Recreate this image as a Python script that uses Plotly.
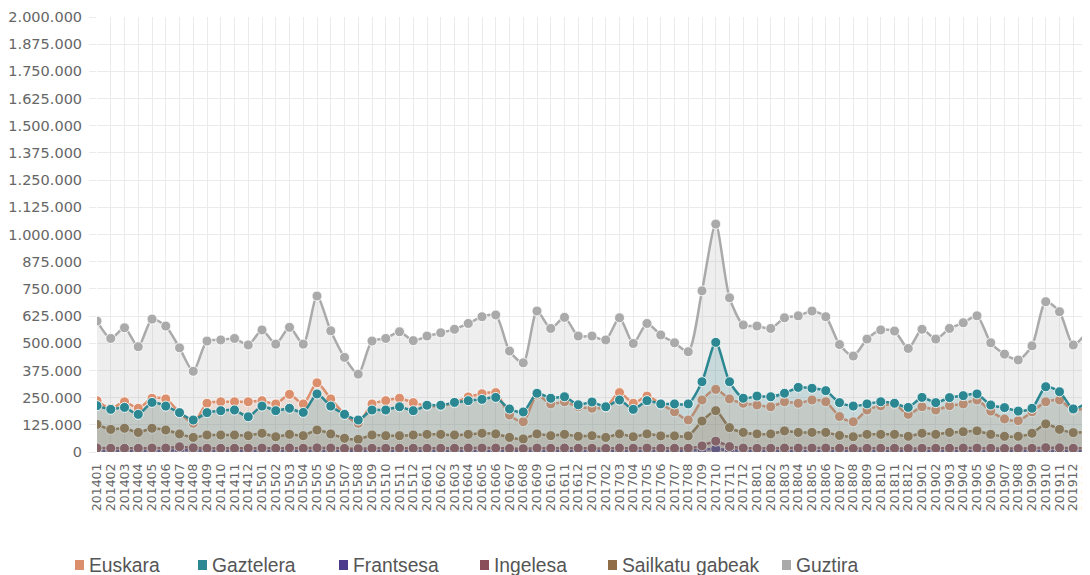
import plotly.graph_objects as go

months = [f"{y}{m:02d}" for y in range(2014, 2020) for m in range(1, 13)] + ["202001"]

guztira = [602, 522, 571, 484, 611, 579, 479, 371, 510, 515,
           522, 492, 561, 496, 573, 496, 717, 557, 435, 358,
           510, 522, 553, 512, 533, 548, 564, 591, 622, 630,
           464, 410, 648, 568, 619, 533, 533, 515, 617, 499,
           591, 538, 502, 461, 741, 1048, 709, 584, 579, 568,
           617, 626, 648, 622, 494, 441, 519, 561, 556, 476,
           564, 519, 568, 594, 626, 502, 450, 423, 488, 691,
           645, 492, 553]
gaztelera = [213, 196, 205, 173, 228, 211, 181, 147, 181, 190,
             193, 162, 211, 190, 201, 182, 267, 211, 173, 147,
             193, 193, 208, 190, 215, 215, 228, 236, 242, 251,
             198, 184, 270, 247, 254, 217, 230, 208, 239, 196,
             236, 221, 221, 221, 323, 504, 323, 247, 257, 254,
             270, 297, 293, 282, 227, 211, 221, 231, 224, 205,
             251, 227, 250, 259, 267, 216, 204, 188, 201, 300,
             277, 198, 228]
euskara = [236, 200, 231, 201, 247, 244, 182, 132, 224, 231,
           231, 231, 236, 221, 265, 221, 318, 244, 175, 132,
           221, 236, 247, 227, 212, 212, 226, 253, 268, 273,
           170, 139, 262, 221, 231, 208, 201, 206, 273, 224,
           257, 221, 185, 147, 239, 288, 244, 224, 216, 208,
           231, 224, 239, 231, 163, 139, 193, 212, 220, 173,
           208, 193, 213, 221, 239, 188, 152, 144, 185, 231,
           239, 193, 205]
sailkatu = [127, 104, 109, 90, 109, 101, 83, 67, 78, 78,
            78, 75, 86, 70, 81, 75, 101, 83, 63, 58,
            78, 75, 75, 78, 81, 81, 78, 81, 86, 83,
            67, 60, 83, 75, 81, 72, 75, 67, 83, 70,
            83, 74, 74, 74, 142, 190, 112, 90, 83, 83,
            97, 90, 90, 90, 76, 70, 81, 81, 81, 72,
            86, 81, 90, 93, 97, 81, 72, 72, 86, 129,
            104, 89, 93]
ingelesa = [18, 17, 17, 17, 18, 18, 24, 19, 17, 17,
            17, 17, 18, 17, 18, 17, 19, 18, 16, 15,
            17, 17, 17, 17, 17, 17, 17, 18, 18, 18,
            16, 15, 18, 17, 18, 17, 17, 16, 18, 17,
            18, 17, 17, 17, 28, 50, 25, 18, 17, 17,
            18, 18, 18, 18, 17, 16, 17, 17, 17, 16,
            17, 17, 17, 18, 18, 17, 16, 16, 17, 20,
            19, 17, 17]
frantsesa = [4, 4, 4, 4, 4, 4, 9, 8, 5, 4,
             4, 4, 4, 4, 4, 4, 5, 4, 4, 4,
             4, 4, 4, 4, 4, 4, 4, 4, 4, 4,
             4, 4, 4, 4, 4, 4, 4, 4, 4, 4,
             4, 4, 4, 5, 12, 14, 9, 4, 4, 4,
             4, 4, 4, 4, 4, 4, 4, 4, 4, 4,
             4, 4, 4, 4, 4, 4, 4, 4, 4, 5,
             5, 4, 4]

names = ["Euskara", "Gaztelera", "Frantsesa", "Ingelesa", "Sailkatu gabeak", "Guztira"]
colors = ["#db8f6d", "#2b8791", "#4b3b8c", "#8a4d5a", "#8f6d46", "#aaaaaa"]
values = [euskara, gaztelera, frantsesa, ingelesa, sailkatu, guztira]
legend_text_x = [88, 211, 352, 493, 621, 795]

def rgba(h, a):
    h = h.lstrip("#")
    return f"rgba({int(h[0:2],16)},{int(h[2:4],16)},{int(h[4:6],16)},{a})"

fig = go.Figure()
draw_order = [5, 4, 2, 3, 0, 1]
for k in draw_order:
    fig.add_trace(go.Scatter(
        x=months, y=[v * 1000 for v in values[k]], name=names[k],
        mode="lines+markers", fill="tozeroy", fillcolor=rgba(colors[k], 0.2),
        line=dict(color=colors[k], width=2.5, shape="spline", smoothing=0.7),
        marker=dict(color=colors[k], size=10, line=dict(color="rgba(255,255,255,0.85)", width=1)),
        showlegend=False,
    ))

# the page body adds an 8px offset (page coords below are converted to figure coords)
OFF = 8
W, H = 1100, 567
L, T = 97 - OFF, 17 - OFF
plot_bottom = 452 - OFF
plot_right = 1087 - OFF
R, B = W - plot_right, H - plot_bottom
pw = W - L - R
ph = H - T - B

def px_x(p):
    return (p - OFF - L) / pw

def px_y(p):
    return (plot_bottom - (p - OFF)) / ph

legend_cy = 565
shapes, annotations = [], []
for k in range(6):
    tx = legend_text_x[k]
    shapes.append(dict(
        type="rect", xref="paper", yref="paper",
        x0=px_x(tx - 13), x1=px_x(tx - 4),
        y0=px_y(legend_cy + 5), y1=px_y(legend_cy - 5),
        fillcolor=colors[k], line=dict(width=0),
    ))
    annotations.append(dict(
        text=names[k], xref="paper", yref="paper",
        x=px_x(tx - 1), y=px_y(legend_cy), xanchor="left", yanchor="middle",
        showarrow=False,
        font=dict(family="Liberation Sans, Arial, sans-serif", size=19.3, color="#555"),
    ))

fig.update_layout(
    width=W, height=H,
    margin=dict(l=L, r=R, t=T, b=B, autoexpand=False),
    paper_bgcolor="white", plot_bgcolor="white",
    separators=",.",
    hovermode="x",
    showlegend=False,
    shapes=shapes, annotations=annotations,
    xaxis=dict(
        type="category", range=[0, len(months) - 1],
        tickmode="linear", dtick=1, tick0=0,
        tickangle=-90, showgrid=True, gridcolor="#ebebeb", gridwidth=1,
        zeroline=False, showline=False, ticks="",
        ticklabelstandoff=8,
        tickfont=dict(family="DejaVu Sans", size=12.5, color="#666"),
    ),
    yaxis=dict(
        range=[0, 2000000], dtick=125000, tick0=0, tickformat=",d",
        showgrid=True, gridcolor="#ebebeb", gridwidth=1,
        zeroline=False, showline=False,
        ticks="outside", ticklen=7, tickcolor="#ebebeb",
        ticklabelstandoff=4,
        tickfont=dict(family="DejaVu Sans", size=14.5, color="#666"),
    ),
)

fig.write_html("out.html")
